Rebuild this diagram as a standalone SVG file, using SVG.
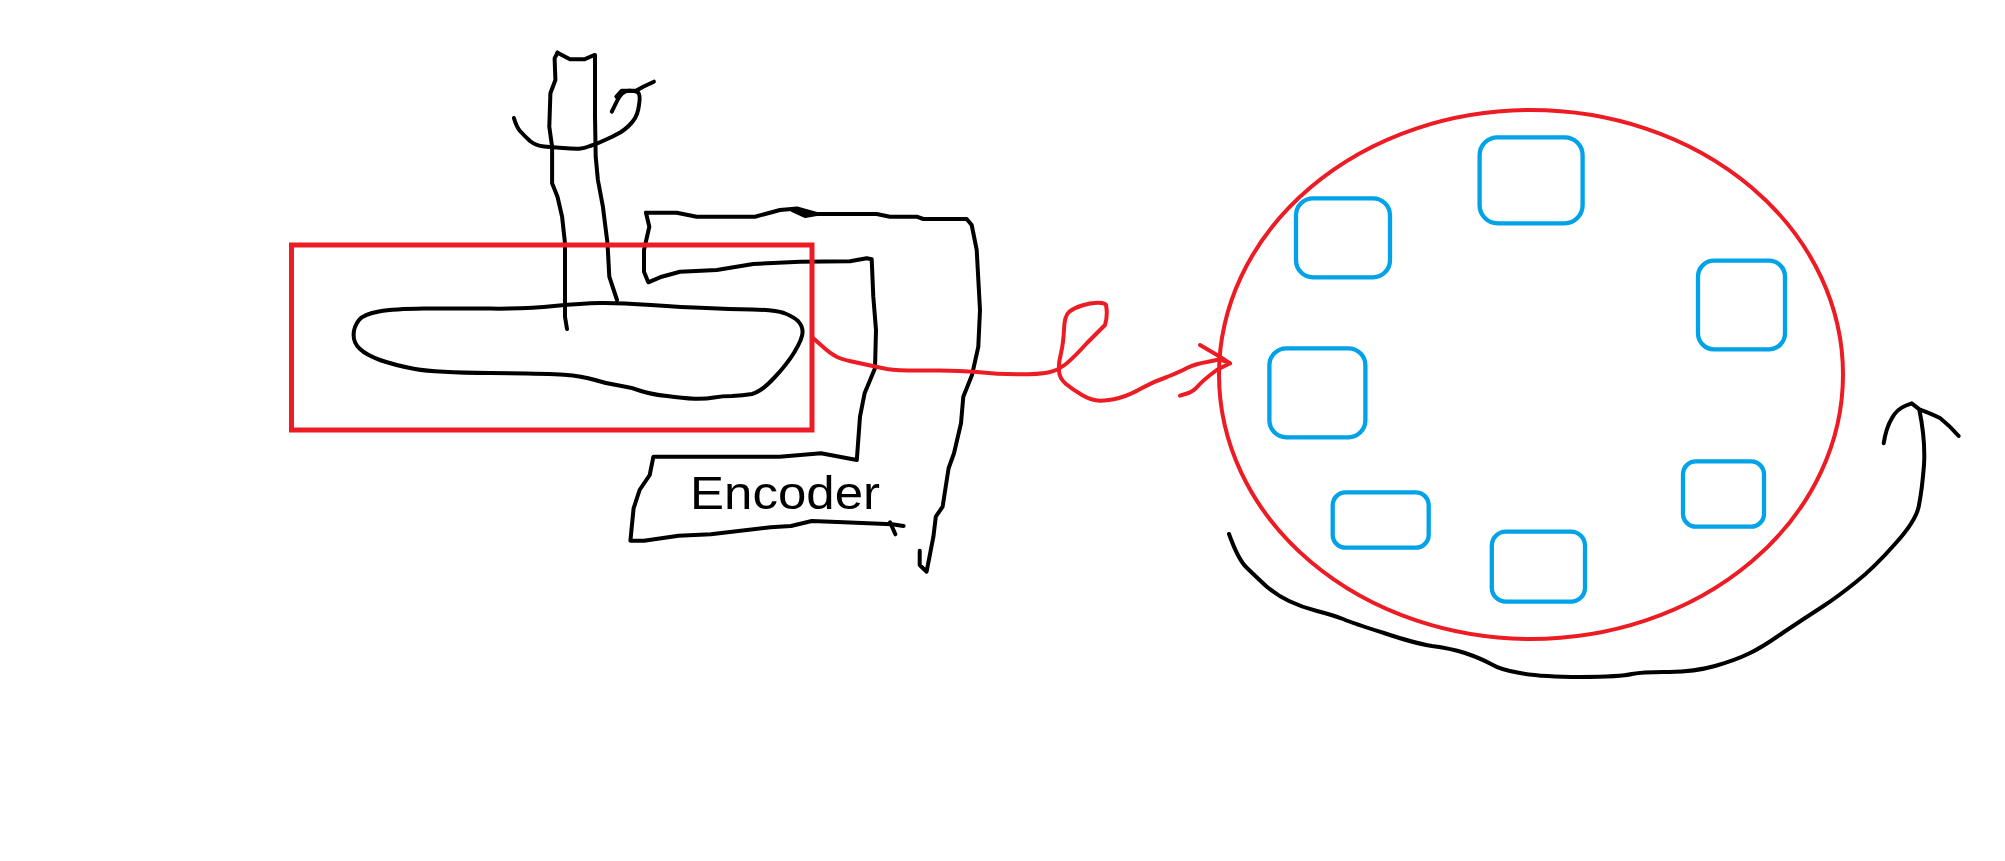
<svg xmlns="http://www.w3.org/2000/svg" width="2005" height="861" viewBox="0 0 2005 861">
<style>
.ink{fill:none;stroke:#000;stroke-width:4;stroke-linejoin:round;stroke-linecap:round}
.red{fill:none;stroke:#ED1C24;stroke-width:4;stroke-linejoin:round;stroke-linecap:round}
.frame{fill:none;stroke:#ED1C24;stroke-width:5}
.slot{fill:none;stroke:#00A2E8;stroke-width:4.3}
.lbl{font-family:"Liberation Sans",Arial,sans-serif;font-size:47px;fill:#000}
</style>
<rect width="2005" height="861" fill="#fff"/>
<g id="encoder-sketch">
<polyline class="ink" points="557.5,52.7 554.6,58.3 555.4,80 550.4,93.3 549.3,126.7 552.1,146.7 552.1,183.3 557.5,196.7 562.1,216.7 565,243.3 565,316.7 567,329"/>
<polyline class="ink" points="557.5,52.7 570,59.3 584.3,59.3 594.3,55 595,55 595,116.7 595.7,156.7 597.9,180 602.9,206.7 607.5,243.3 609.3,276.7 617,300"/>
<path class="ink" d="M513.9,118 Q516.4,126.7 520,131 Q524.3,135.7 530,141 Q536,145.7 544,146.5 Q552.1,147.3 563,148 Q573.6,149 579,148.7 Q584.3,148.3 590,146 Q596.8,144 605,140 Q612.9,136.7 621,132 Q628.9,126.7 633,121 Q637.9,115 639,105 Q640.7,95 638,92.5 Q636,90.7 629,90.7 Q621.8,90.7 617,101 L611.8,111.7"/>
<polyline class="ink" points="616.4,96.7 621.8,90.7 636,90.7 643.2,86.7 653.9,81.7"/>
<path class="ink" d="M359,320 Q364,314 379,311.5 Q394,309 424,308.6 Q453.7,308.3 490,308.6 Q527,309 554,306 Q582,303.3 600,303 Q619,302.7 651,305 Q683,307.3 706,308 Q729,309 752,309.5 Q775,310 784,313 Q793.4,316.7 798,321 Q802.6,326 802.6,332 Q802.6,338.3 794.5,352 Q786.5,365 774,378 Q761.3,391.7 752,394 Q743,395.7 732,396 Q722,396 714,397.5 Q706,399 694.5,398.7 Q683,398.3 667,396 Q651,394.3 641,391 Q630.4,387.3 619,385.6 Q607.5,384 595,380 Q582,376 564,374.7 Q545.5,373.3 490,373 Q435.3,372.7 415,369 Q394,365 380,360 Q366.4,355 360,349 Q353.6,343.3 353.6,335 Q353.6,326.7 359,320 Z"/>
<polyline class="ink" points="646,212.7 676.7,212.7 696.7,216.7 755,216.7 780,210 797,208.5 813,213 816.7,214 805,216 793,210.5 800,211 817,214 876.7,214 890,216.7 916.7,216.7 923.3,219 966.7,219 971.7,225 976.7,250 980,310 978.3,346.7 972,375 963.3,396.7 961,423.3 954,453.3 948.6,468.3 942.6,506.7 935.8,516.7 933.4,536.7 926.6,571.7 919.7,565 919.7,550.7"/>
<polyline class="ink" points="646,212.7 649.3,226.7 644,250 644,271.7 648.3,282.3 661.7,276.7 680,271.7 716.7,270 753.3,264 800,261.7 850,261.3 866.7,258.3 871.7,259.3 873.3,296.7 876,330 875,368.3 864.6,393.3 860,416.7 856.8,460 821,453.3 779.6,456.7 653.4,456.7 649.7,475 639.6,490 633.6,508.3 630.4,540.7 644,540.7 678.6,535.7 710.8,534.3 770.5,527.3 791,526 811.8,521 844,522.3 892,524.3 903.6,526"/>
<polyline class="ink" points="890,522.3 895.4,534.3"/>
<text class="lbl" x="690" y="508.5" textLength="190" lengthAdjust="spacingAndGlyphs">Encoder</text>
</g>
<g id="selection-box"><rect class="frame" x="291.5" y="245" width="520.5" height="185"/></g>
<g id="cluster">
<ellipse cx="1531" cy="374.5" rx="312" ry="264.5" fill="none" stroke="#ED1C24" stroke-width="4"/>
</g>
<g id="slot-1"><rect class="slot" x="1479.6" y="137.3" width="103" height="86" rx="18"/></g>
<g id="slot-2"><rect class="slot" x="1296" y="198.3" width="94" height="79" rx="17"/></g>
<g id="slot-3"><rect class="slot" x="1698" y="260.7" width="87" height="88.6" rx="16"/></g>
<g id="slot-4"><rect class="slot" x="1269.4" y="348.3" width="96" height="89" rx="17"/></g>
<g id="slot-5"><rect class="slot" x="1332.7" y="492.3" width="96" height="55.4" rx="13"/></g>
<g id="slot-6"><rect class="slot" x="1491.8" y="531.7" width="93.2" height="70" rx="14"/></g>
<g id="slot-7"><rect class="slot" x="1683" y="461.3" width="81" height="65.4" rx="13"/></g>
<g id="connectors">
<path class="red" d="M813.3,338.3 L822,346 Q830,353.3 837,357 Q843.3,360 859,363 Q875,366.7 887,369 Q900,371 928,370.5 Q956.7,370 977,372 Q996.7,374.3 1018,374.3 Q1040,374.3 1048,372.5 Q1056.7,370.7 1063,366 Q1070,361.7 1087,343 L1105,325 Q1108,315 1106,305 Q1106,303 1098,302.8 Q1090,302.7 1082,305.5 Q1073.3,308.3 1069,312 Q1064.3,316 1064,330 Q1063.3,343.3 1061,353 Q1058.3,363.3 1059,371 Q1059.3,378.3 1066,384 Q1073.3,390 1082,395 Q1091.7,400.7 1100,400.7 Q1108.3,400.7 1119,398 Q1130,395 1142,388 Q1153.3,381.7 1167,377 Q1180,371.7 1187,368 Q1195,364 1207,362 L1220,359.3 L1230,363.3 L1216.7,370 Q1203.3,380 1198,386 Q1193.3,391.7 1187,393.5 L1180,395.7"/>
<polyline class="red" points="1200,345 1220,356.7 1230,363.3"/>
<path class="ink" d="M1229,534 Q1238.3,560 1247,568 Q1256,576.7 1266,586 Q1276.5,595 1289,601 Q1302,607.3 1317,611 Q1332.7,615 1343,619 Q1353,623.3 1384,633 Q1414.3,643.3 1432,646 Q1450,648.3 1465,653 Q1480.6,658.3 1491,664 Q1501,670 1520,673 Q1539.3,676.7 1580,677 Q1621,676.7 1632,674 Q1643.9,671.7 1669,672 Q1695,671.7 1715,666 Q1735.7,660 1748,654 Q1761,648.3 1784,632 Q1807,616.7 1822,607 Q1837.8,596.7 1856,582 Q1873.5,568.3 1895,544 Q1916.8,520 1919,505 Q1922,490 1924,465 Q1925.5,440 1919.4,410"/>
<path class="ink" d="M1883.7,443.3 Q1886,428 1892,418 Q1897,409 1906,405.5 L1911.7,403.3 L1919.4,409.3 Q1932,414 1940,418 Q1950,426 1958.7,436"/>
</g>
</svg>
